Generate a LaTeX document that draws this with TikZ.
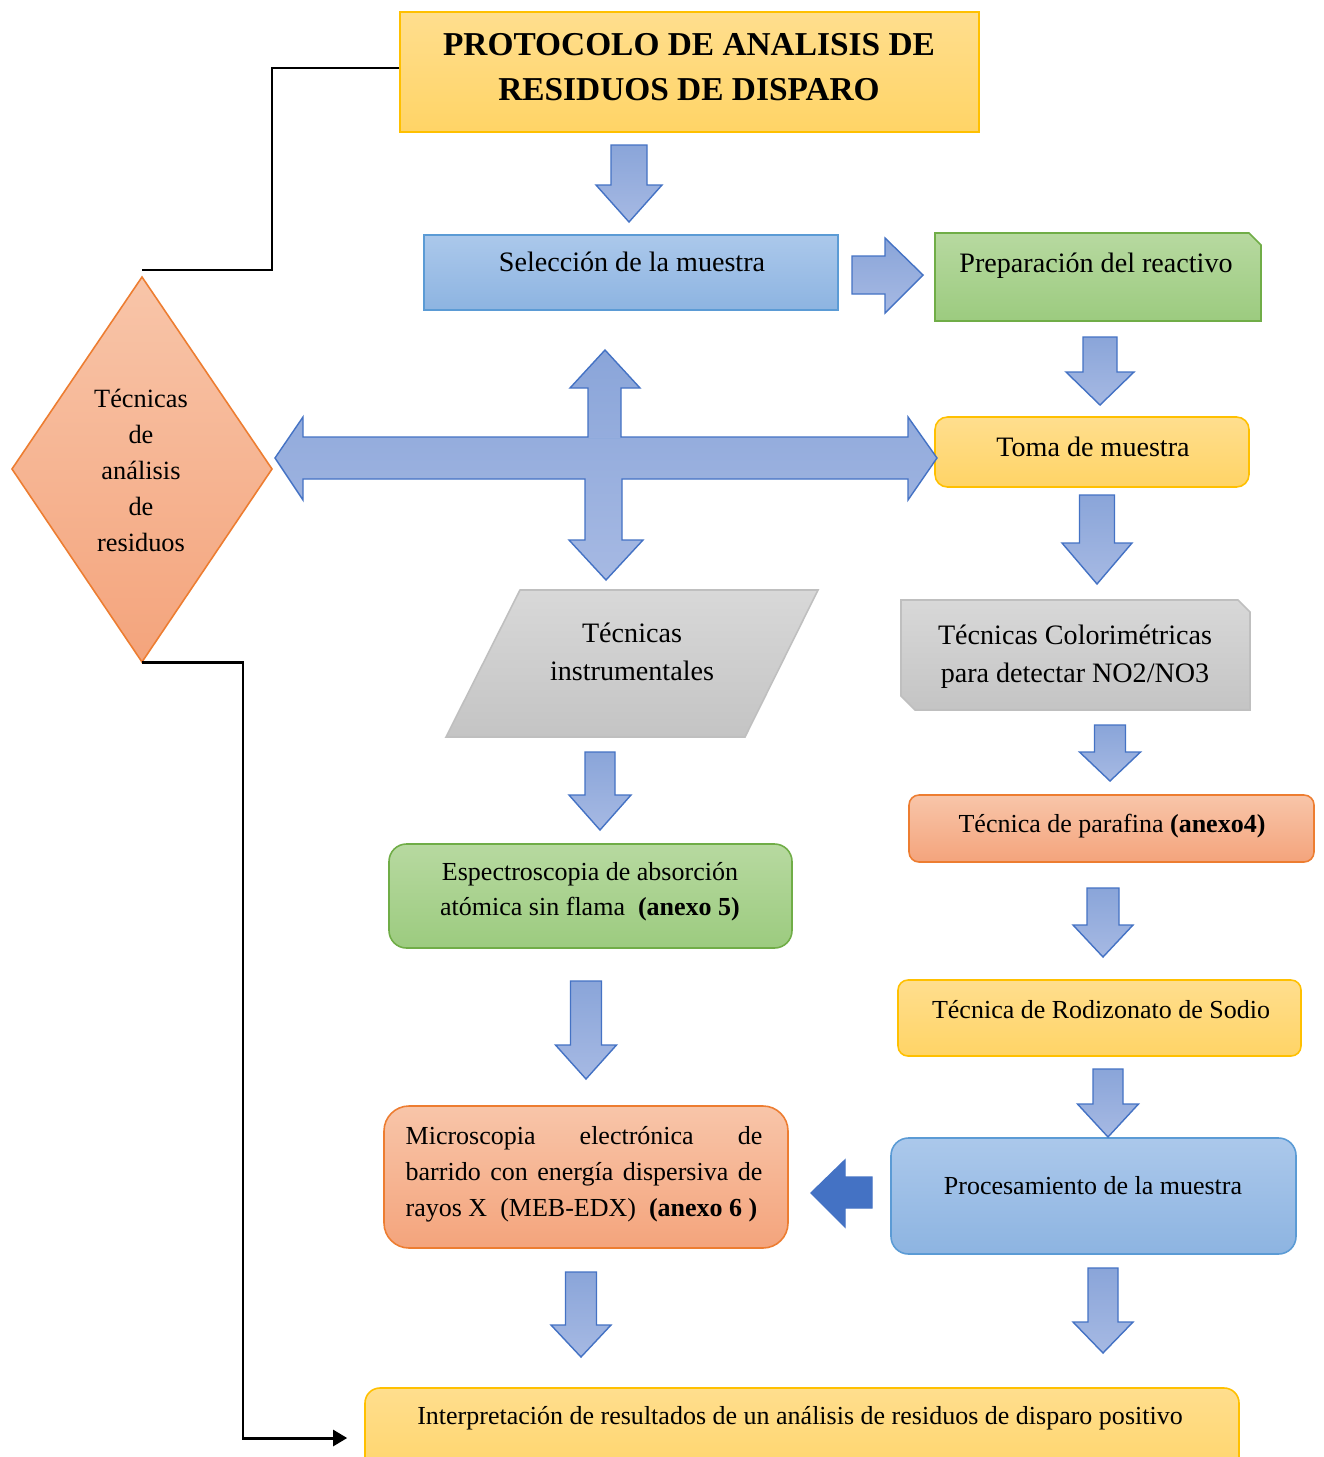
\documentclass[tikz,border=0pt]{standalone}
\usepackage{fontspec}
\setmainfont{Liberation Serif}
\usetikzlibrary{fit,calc,arrows.meta}
\definecolor{bluetop}{HTML}{ABC8EB}
\definecolor{bluebot}{HTML}{8DB4E1}
\definecolor{blueline}{HTML}{5B9BD5}
\definecolor{greentop}{HTML}{B7D9A0}
\definecolor{greenbot}{HTML}{9CCB7F}
\definecolor{greenline}{HTML}{70AD47}
\definecolor{yeltop}{HTML}{FFDE8E}
\definecolor{yelbot}{HTML}{FFD466}
\definecolor{yelline}{HTML}{FFC000}
\definecolor{ortop}{HTML}{F8C5A9}
\definecolor{orbot}{HTML}{F4A47C}
\definecolor{orline}{HTML}{ED7D31}
\definecolor{graytop}{HTML}{D8D8D8}
\definecolor{graybot}{HTML}{C4C4C4}
\definecolor{grayline}{HTML}{BFBFBF}
\definecolor{arrtop}{HTML}{8AA5D9}
\definecolor{arrbot}{HTML}{A6B9E3}
\definecolor{arrline}{HTML}{4472C4}
\newcommand{\DArr}[6]{%
  \path[barrow] (#1-#5,#2) -- (#1+#5,#2) -- (#1+#5,#3) -- (#1+#6,#3) -- (#1,#4)
    -- (#1-#6,#3) -- (#1-#5,#3) -- cycle;}
\begin{document}
\begin{tikzpicture}[x=0.02cm,y=-0.02cm,
  box/.style={inner sep=0pt, line width=0.9pt},
  bluebox/.style={box, draw=blueline, top color=bluetop, bottom color=bluebot},
  greenbox/.style={box, draw=greenline, top color=greentop, bottom color=greenbot},
  yelbox/.style={box, draw=yelline, top color=yeltop, bottom color=yelbot},
  orbox/.style={box, draw=orline, top color=ortop, bottom color=orbot},
  graybox/.style={box, draw=grayline, top color=graytop, bottom color=graybot},
  namer/.style={inner sep=0pt, draw=none},
  txt/.style={inner sep=0pt, align=center, font=\fontsize{16}{20.5}\selectfont},
  txts/.style={txt, font=\fontsize{14.8}{20}\selectfont},
  barrow/.style={draw=arrline, line width=0.8pt, top color=arrtop, bottom color=arrbot},
  conn/.style={draw=black, line width=1.7pt}
]
\useasboundingbox (0,0) rectangle (1324,1457);
\fill[white] (0,0) rectangle (1324,1457);
\clip (0,0) rectangle (1324,1457);

% ---- boxes ----
\node[yelbox, fit={(400,12) (979,132)}] (title) {};
\node[bluebox, fit={(424,235) (838,310)}] (sel) {};
\path[greenbox] (935,233) -- (1249,233) -- (1261,245) -- (1261,321) -- (935,321) -- cycle;
\node[namer, fit={(935,233) (1261,321)}] (prep) {};
\node[yelbox, rounded corners=0.25cm, fit={(935,417) (1249,487)}] (toma) {};
\path[orbox] (142,277) -- (272,469) -- (142,662) -- (12,469) -- cycle;
\node[namer, fit={(12,277) (272,662)}] (diam) {};
\path[graybox] (520,590) -- (818,590) -- (745,737) -- (446,737) -- cycle;
\node[namer, fit={(446,590) (818,737)}] (instr) {};
\path[graybox] (901,600) -- (1238,600) -- (1250,612) -- (1250,710) -- (915,710) -- (901,696) -- cycle;
\node[namer, fit={(901,600) (1250,710)}] (color) {};
\node[orbox, rounded corners=0.2cm, fit={(909,795) (1314,862)}] (paraf) {};
\node[greenbox, rounded corners=0.35cm, fit={(389,844) (792,948)}] (espec) {};
\node[yelbox, rounded corners=0.2cm, fit={(898,980) (1301,1056)}] (rodiz) {};
\node[orbox, rounded corners=0.5cm, fit={(384,1106) (788,1248)}] (micro) {};
\node[bluebox, rounded corners=0.35cm, fit={(891,1138) (1296,1254)}] (proc) {};
\node[yelbox, rounded corners=0.3cm, fit={(365,1388) (1239,1488)}] (interp) {};

% ---- block arrows ----
\DArr{629}{145}{185}{222}{18}{33}
\DArr{1100}{337}{372}{405}{17}{34}
\DArr{1097}{495}{543}{584}{17.5}{35}
\DArr{600}{752}{795}{830}{15}{31}
\DArr{1110}{725}{752}{781}{15.5}{30.5}
\DArr{1103}{888}{925}{957}{16}{30}
\DArr{586}{981}{1045}{1079}{15.5}{30.5}
\DArr{1108}{1069}{1104}{1137}{15}{30.5}
\DArr{581}{1272}{1325}{1357}{15.5}{30}
\DArr{1103}{1268}{1322}{1353}{15}{30}
% right arrow
\path[barrow] (852,256) -- (885,256) -- (885,238) -- (923,275) -- (885,313) -- (885,294) -- (852,294) -- cycle;
% left arrow
\path[draw=arrline, line width=0.8pt, fill=arrline] (872,1177) -- (845,1177) -- (845,1160) -- (811,1193) -- (845,1227) -- (845,1208) -- (872,1208) -- cycle;
% cross arrow
\path[barrow] (275,458) -- (303,417) -- (303,437) -- (588,437) -- (588,388) -- (570,388) -- (605,350)
  -- (640,388) -- (621,388) -- (621,437) -- (908,437) -- (908,417) -- (937,458) -- (908,500)
  -- (908,479) -- (622,479) -- (622,540) -- (643,540) -- (606,580) -- (569,540) -- (585,540)
  -- (585,479) -- (303,479) -- (303,500) -- cycle;
\draw[arrline!60, line width=0.5pt] (588,438) -- (621,438);

% ---- connectors ----
\coordinate (j1) at (272,270);
\draw[conn] ($(title.west)+(0,-4)$) -| (j1) -- (j1 -| diam.north);
\draw[conn, -{Triangle[length=8pt,width=9pt]}] (diam.south) -- ++(101,0) |- ($(interp.west)+(-17,0)$);

% ---- texts ----
\node[txt, font=\fontsize{19}{25.5}\selectfont\bfseries] (titleT) at (689,67) {PROTOCOLO DE ANALISIS DE\\RESIDUOS DE DISPARO};
\node[txt] (selT) at (632,262) {Selección de la muestra};
\node[txt] (prepT) at (1096,266) {Preparación del reactivo};
\node[txt] (tomaT) at (1093,447) {Toma de muestra};
\node[txt, font=\fontsize{15}{20.5}\selectfont] (diamT) at (141,470) {Técnicas\\de\\análisis\\de\\residuos};
\node[txt, font=\fontsize{16}{22}\selectfont] (instrT) at (632,652) {Técnicas\\instrumentales};
\node[txt, font=\fontsize{16}{21.5}\selectfont] (colorT) at (1075,657) {Técnicas Colorimétricas\\para detectar NO2/NO3};
\node[txts] (parafT) at (1112,826) {Técnica de parafina \textbf{(anexo4)}};
\node[txts] (especT) at (590,892) {Espectroscopia de absorción\\atómica sin flama\ \ \textbf{(anexo 5)}};
\node[txts] (rodizT) at (1101,1010) {Técnica de Rodizonato de Sodio};
\node[txts, font=\fontsize{14.8}{20.5}\selectfont, align=left] (microT) at (584,1174) {\makebox[203pt][s]{Microscopia electrónica de}\\\makebox[203pt][s]{barrido con energía dispersiva de}\\\makebox[203pt][l]{rayos X\ \ (MEB-EDX)\ \ \textbf{(anexo 6 )}}};
\node[txts] (procT) at (1093,1186) {Procesamiento de la muestra};
\node[txts] (interpT) at (800,1418) {Interpretación de resultados de un análisis de residuos de disparo positivo};
\end{tikzpicture}
\end{document}
